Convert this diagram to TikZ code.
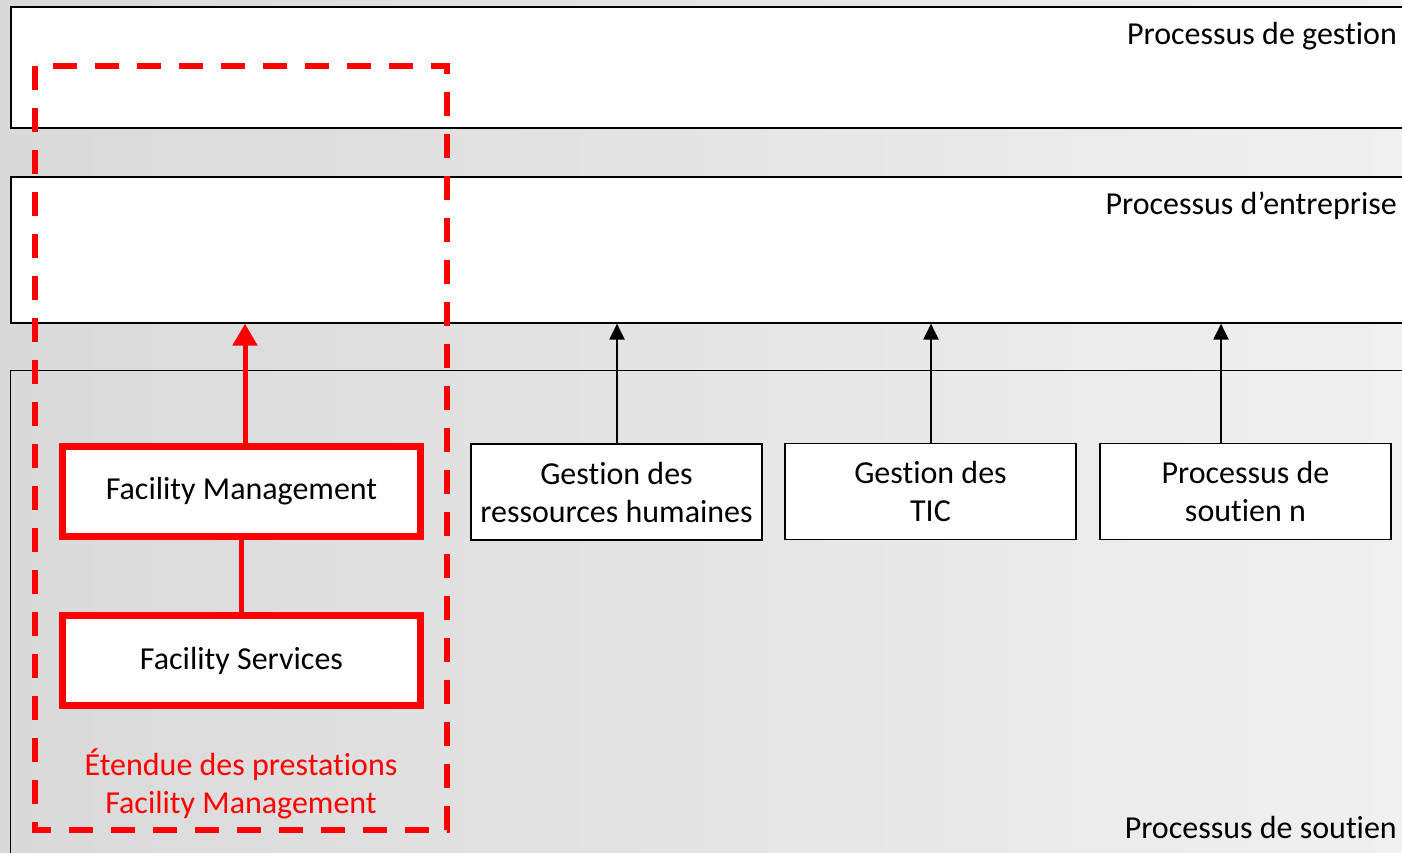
\documentclass[tikz,border=0pt]{standalone}
\usepackage{fontspec}
\setmainfont[Ligatures=NoCommon]{Carlito}
\usetikzlibrary{arrows.meta}
\definecolor{fmred}{RGB}{255,0,0}
\definecolor{bgleft}{RGB}{217,217,217}
\definecolor{bgright}{RGB}{240,240,240}
\tikzset{
  band/.style={draw=black, line width=1.6pt, fill=white, inner sep=0pt},
  openband/.style={draw=black, line width=1.4pt, inner sep=0pt},
  bandlabel/.style={anchor=east, inner sep=0pt, font=\fontsize{32}{38}\selectfont},
  procbox/.style={draw=black, line width=1.6pt, fill=white, minimum width=291pt,
    minimum height=96pt, align=center, inner sep=0pt, font=\fontsize{32}{38}\selectfont},
  fmbox/.style={draw=fmred, line width=7pt, fill=white, minimum width=358pt,
    minimum height=90pt, align=center, inner sep=0pt, font=\fontsize{32}{38}\selectfont},
  feed/.style={line width=2.2pt, -{Triangle[width=15pt,length=16pt]}},
  fmfeed/.style={draw=fmred, line width=5pt, -{Triangle[width=24pt,length=22pt]}},
  scopebox/.style={draw=fmred, line width=5.5pt, dash pattern=on 24pt off 18pt},
}
\begin{document}
\begin{tikzpicture}[x=1pt, y=-1pt]
\useasboundingbox (0,0) rectangle (1402,852);
\begin{scope}
\clip (0,0) rectangle (1402,852);
% backdrop
\shade[left color=bgleft, right color=bgright] (0,0) rectangle (1402,852);
% process layers
\node[band, minimum width=1410pt, minimum height=121pt, anchor=north west] (gestion) at (10,6) {};
\node[band, minimum width=1410pt, minimum height=146pt, anchor=north west] (entreprise) at (10,176) {};
\node[openband, minimum width=1410pt, minimum height=500pt, anchor=north west] (soutien) at (10,370) {};
\end{scope}
\node[bandlabel] (lgestion) at (1397,36) {Processus de gestion};
\node[bandlabel] (lentreprise) at (1397,206) {Processus d’entreprise};
\node[bandlabel] (lsoutien) at (1397,827) {Processus de soutien};

% support processes
\node[procbox] (rh) at (616.5,492) {Gestion des\\ressources humaines};
\node[procbox] (tic) at (930.5,491.5) {Gestion des\\TIC};
\node[procbox] (sn) at (1245.5,491.5) {Processus de\\soutien n};
\draw[feed] (rh.north -| 617,0) -- (617,0 |- entreprise.south);
\draw[feed] (tic.north -| 931,0) -- (931,0 |- entreprise.south);
\draw[feed] (sn.north -| 1221,0) -- (1221,0 |- entreprise.south);

% facility management scope
\node[fmbox] (fm) at (241.5,491.5) {Facility Management};
\node[fmbox] (fs) at (241.5,660.5) {Facility Services};
\draw[fmred, line width=5pt] (fm.south -| 241,0) -- (fs.north -| 241,0);
\draw[fmfeed] (fm.north -| 245,0) -- (245,0 |- entreprise.south);
\node[text=fmred, align=center, inner sep=0pt, font=\fontsize{32}{38}\selectfont] (scopelabel) at (241,784) {Étendue des prestations\\Facility Management};
\draw[scopebox] (35,66) rectangle (447,830);
\end{tikzpicture}
\end{document}
